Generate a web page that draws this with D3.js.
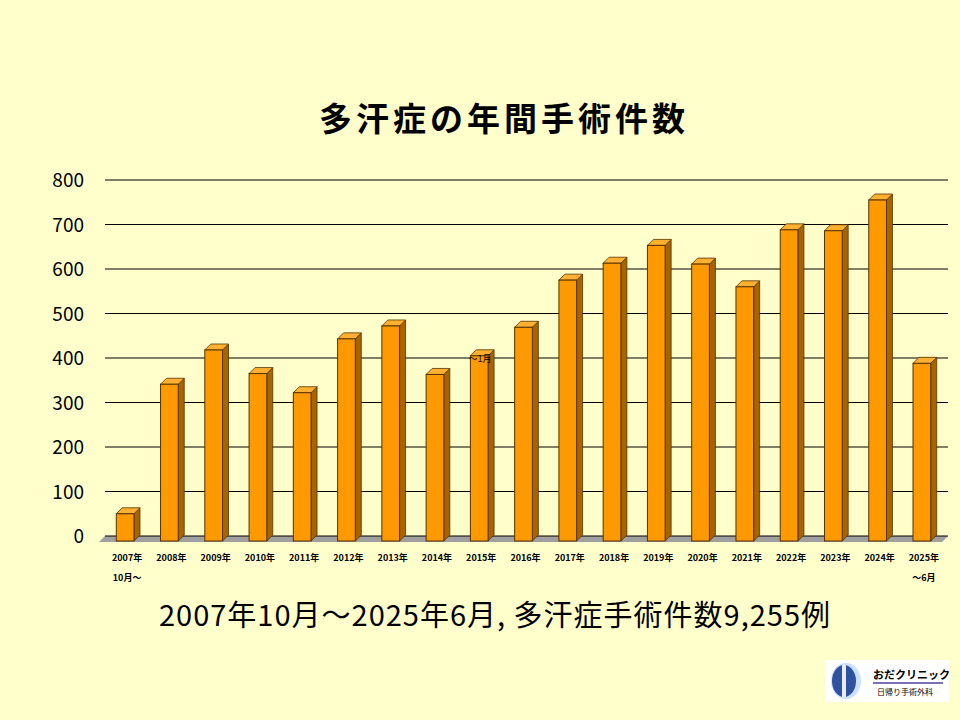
<!DOCTYPE html><html><head><meta charset="utf-8"><script src="https://cdn.jsdelivr.net/npm/d3@7"></script>
<style>body{margin:0;background:#ffffcc}</style></head><body><svg id="c" width="960" height="720"></svg>
<script>
const years=["2007年","2008年","2009年","2010年","2011年","2012年","2013年","2014年","2015年","2016年","2017年","2018年","2019年","2020年","2021年","2022年","2023年","2024年","2025年"];
const subLabels={"2007年":"10月～","2025年":"～6月"};
const values=[50,341,418,365,322,443,472,363,405,469,575,613,653,611,560,688,686,755,388];
const yTicks=[0,100,200,300,400,500,600,700,800];
const svg=d3.select("#c");
svg.append("rect").attr("width",960).attr("height",720).attr("fill","#ffffcc");
const F="'Noto Sans CJK JP',sans-serif";
const y=d3.scaleLinear().domain([0,800]).range([536,180]);
const x=d3.scaleBand().domain(years).range([102,943]).paddingInner(0.6).paddingOuter(0.3);
const dx=6,dy=6;
svg.append("polygon").attr("points",`105,536 948,536 942,542 99,542`).attr("fill","#a0a0a0");
svg.append("line").attr("x1",105).attr("x2",948).attr("y1",536).attr("y2",536).attr("stroke","#000").attr("stroke-width",1);
yTicks.slice(1).forEach(t=>svg.append("line").attr("x1",105).attr("x2",948).attr("y1",y(t)).attr("y2",y(t)).attr("stroke","#000").attr("stroke-width",1.2));
svg.selectAll(".yt").data(yTicks).join("text").attr("x",84).attr("y",d=>y(d)+7).attr("text-anchor","end")
 .attr("font-family",F).attr("font-size",19).text(d=>d);
const g=svg.append("g");
years.forEach((yr,i)=>{
 const x0=x(yr)+1,w=x.bandwidth(),top=y(values[i]),bot=541;
 g.append("polygon").attr("points",`${x0+w},${top} ${x0+w+dx},${top-dy} ${x0+w+dx},${bot-dy} ${x0+w},${bot}`).attr("fill","#a86400").attr("stroke","#553300").attr("stroke-width",0.8);
 g.append("polygon").attr("points",`${x0},${top} ${x0+dx},${top-dy} ${x0+w+dx},${top-dy} ${x0+w},${top}`).attr("fill","#ffb030").attr("stroke","#553300").attr("stroke-width",0.8);
 g.append("rect").attr("x",x0).attr("y",top).attr("width",w).attr("height",bot-top).attr("fill","#ff9900").attr("stroke","#553300").attr("stroke-width",1);
});
svg.selectAll(".xl").data(years).join("text").attr("x",d=>x(d)+x.bandwidth()/2+3).attr("y",561).attr("text-anchor","middle")
 .attr("font-family",F).attr("font-size",9).attr("font-weight","bold").text(d=>d);
Object.entries(subLabels).forEach(([k,v])=>svg.append("text").attr("x",x(k)+x.bandwidth()/2+3).attr("y",581).attr("text-anchor","middle").attr("font-family",F).attr("font-size",9).attr("font-weight","bold").text(v));
svg.append("text").attr("x",480).attr("y",362).attr("text-anchor","middle").attr("font-family",F).attr("font-size",9).text("～1月");
svg.append("text").attr("x",504).attr("y",131).attr("text-anchor","middle").attr("font-family",F).attr("font-size",33).attr("font-weight","bold").attr("letter-spacing",4).text("多汗症の年間手術件数");
svg.append("text").attr("x",495).attr("y",626).attr("text-anchor","middle").attr("font-family",F).attr("font-size",29).attr("letter-spacing",1).text("2007年10月～2025年6月, 多汗症手術件数9,255例");
const lg=svg.append("g").attr("transform","translate(825,660)");
lg.append("rect").attr("width",124).attr("height",42).attr("fill","#fff");
lg.append("ellipse").attr("cx",21).attr("cy",21).attr("rx",15).attr("ry",18).attr("fill","#cce0ff");
lg.append("ellipse").attr("cx",19).attr("cy",21).attr("rx",12).attr("ry",16).attr("fill","#3050a0");
lg.append("rect").attr("x",17).attr("y",5).attr("width",4).attr("height",32).attr("fill","#e8eeff");
lg.append("text").attr("x",48).attr("y",19).attr("font-family",F).attr("font-size",11).attr("font-weight","bold").text("おだクリニック");
lg.append("line").attr("x1",48).attr("x2",118).attr("y1",23).attr("y2",23).attr("stroke","#5040a0").attr("stroke-width",1.5);
lg.append("text").attr("x",52).attr("y",35).attr("font-family",F).attr("font-size",8).text("日帰り手術外科");
</script></body></html>
